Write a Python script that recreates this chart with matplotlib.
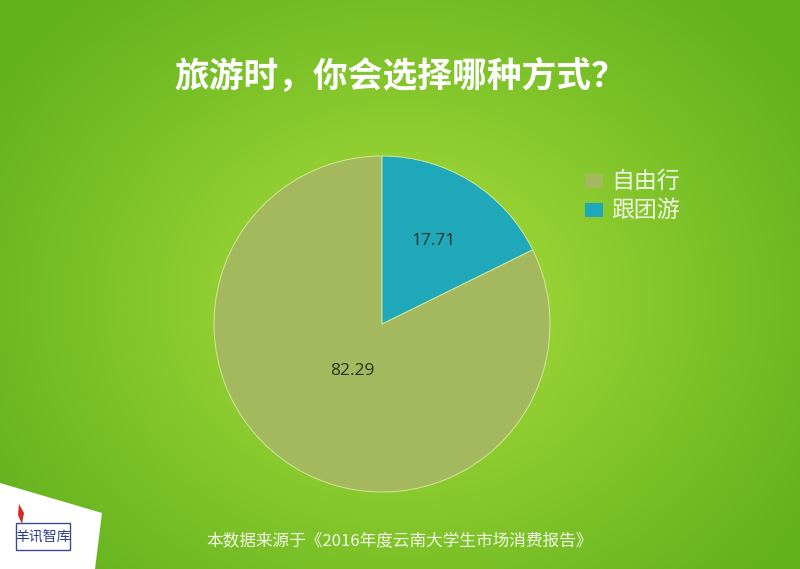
import numpy as np
import matplotlib.pyplot as plt
from matplotlib.patches import Polygon, Rectangle

plt.rcParams['font.family'] = ['Noto Sans CJK SC', 'DejaVu Sans']

# data
labels = ['自由行', '跟团游']
values = [82.29, 17.71]
colors = ['#a4b95e', '#1ea8ba']
label_r = [0.33, 0.58]  # radial position of the value labels
title = '旅游时，你会选择哪种方式？'
source = '本数据来源于《2016年度云南大学生市场消费报告》'

W, H = 800, 569
fig = plt.figure(figsize=(8, 5.69), dpi=100)

# --- background: radial green gradient ---
bg = fig.add_axes([0, 0, 1, 1])
yy, xx = np.mgrid[0:H, 0:W]
d = np.sqrt(((xx - 400) / 480.0) ** 2 + ((yy - 300) / 400.0) ** 2)
d = np.clip(d, 0, 1) ** 0.9
c_in = np.array([0xb2, 0xe2, 0x3e]) / 255
c_out = np.array([0x62, 0xb2, 0x1e]) / 255
img = c_in[None, None, :] * (1 - d[..., None]) + c_out[None, None, :] * d[..., None]
bg.imshow(img, extent=[0, W, H, 0], aspect='auto')
bg.set_xlim(0, W)
bg.set_ylim(H, 0)
bg.axis('off')

# logo corner
bg.add_patch(Polygon([(0, 483), (102, 513), (95, 569), (0, 569)], closed=True,
                     facecolor='white', edgecolor='none'))
bg.add_patch(Rectangle((16, 523), 54, 27, facecolor='white', edgecolor='#3a4a8a', lw=1.0))
bg.text(43, 537, '羊讯智库', ha='center', va='center', fontsize=10, color='#2b3b8f')
bg.add_patch(Polygon([(19, 504), (24, 513), (22, 524), (18, 515)], closed=True,
                     facecolor='#d8282a', edgecolor='none'))

# title and footer
bg.text(400, 77, title, ha='center', va='center', fontsize=25, color='white',
        fontweight='bold')
bg.text(400, 541, source, ha='center', va='center', fontsize=12, color='#f4f8e8')

# legend
for i, (lab, col) in enumerate(zip(labels, colors)):
    y = 181 + i * 29
    bg.add_patch(Rectangle((585, y - 7), 18, 14, facecolor=col, edgecolor='none'))
    bg.text(611, y, lab, ha='left', va='center', fontsize=16.5, color='#f2f6e4')

# --- pie ---
cx, cy, r = 382, 324, 168
pax = fig.add_axes([(cx - r) / W, 1 - (cy + r) / H, 2 * r / W, 2 * r / H])
wedges, texts = pax.pie(values, colors=colors, startangle=90, counterclock=True,
                        wedgeprops=dict(edgecolor='#d4e69a', linewidth=0.7))
pax.set_aspect('auto')
pax.set_xlim(-1, 1)
pax.set_ylim(-1, 1)
pax.axis('off')

# value labels
start = 90
for v, lr in zip(values, label_r):
    span = v / 100 * 360
    a = np.deg2rad(start + span / 2)
    start += span
    pax.text(lr * np.cos(a), lr * np.sin(a), f'{v:.2f}', ha='center', va='center',
             fontsize=12.5, color='#263326', family=['Open Sans', 'DejaVu Sans'])

fig.savefig('out.png', dpi=100)
